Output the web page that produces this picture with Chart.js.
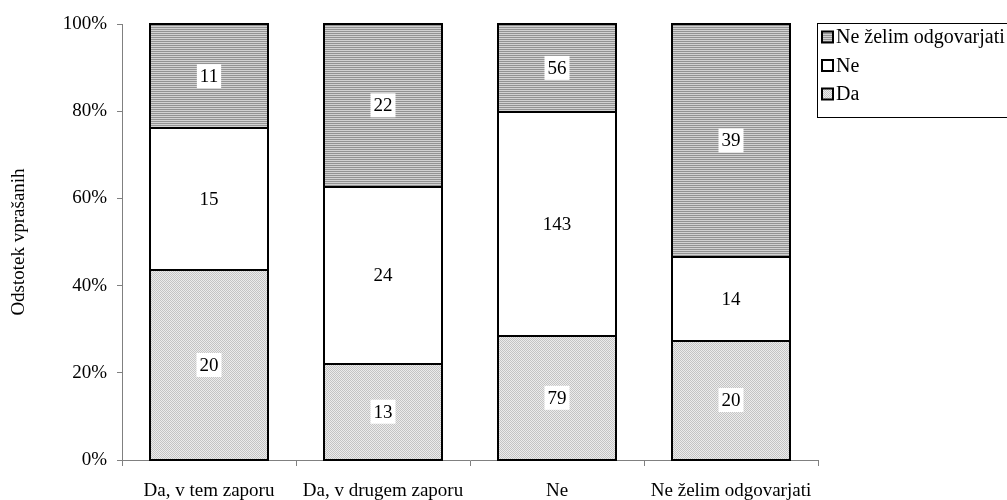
<!DOCTYPE html>
<html>
<head>
<meta charset="utf-8">
<script src="https://cdn.jsdelivr.net/npm/chart.js@4.4.1/dist/chart.umd.min.js"></script>
<style>
  html, body { margin: 0; padding: 0; background: #fff; }
  #wrap { width: 1007px; height: 500px; position: relative; }
</style>
</head>
<body>
<div id="wrap"><canvas id="c" width="1007" height="500"></canvas></div>
<script>
// Answer groups on the x axis
const categories = ['Da, v tem zaporu', 'Da, v drugem zaporu', 'Ne', 'Ne želim odgovarjati'];
// Respondent counts per answer within each group
const countsDa = [20, 13, 79, 20];
const countsNe = [15, 24, 143, 14];
const countsNeZelim = [11, 22, 56, 39];
const seriesNames = ['Da', 'Ne', 'Ne želim odgovarjati'];
const yTicks = [0, 20, 40, 60, 80, 100];

const FONT = 'Liberation Serif, Times New Roman, serif';
const FS = 19;

// Fill patterns: fine gray dots and horizontal gray stripes
function makePattern(draw, w, h) {
  const cv = document.createElement('canvas');
  cv.width = w; cv.height = h;
  const g = cv.getContext('2d');
  draw(g);
  return g.createPattern(cv, 'repeat');
}
const ctx = document.getElementById('c').getContext('2d');
const dotPattern = makePattern(g => {
  g.fillStyle = '#ececec'; g.fillRect(0, 0, 2, 2);
  g.fillStyle = '#c4c4c4'; g.fillRect(0, 0, 1, 1); g.fillRect(1, 1, 1, 1);
}, 2, 2);
const stripePattern = makePattern(g => {
  g.fillStyle = '#d2d2d2'; g.fillRect(0, 0, 4, 2);
  g.fillStyle = '#939393'; g.fillRect(0, 1, 4, 1);
}, 4, 2);

const totals = categories.map((_, i) => countsDa[i] + countsNe[i] + countsNeZelim[i]);
const pct = arr => arr.map((v, i) => v / totals[i] * 100);

const seriesCounts = [countsDa, countsNe, countsNeZelim];
const fills = [dotPattern, '#ffffff', stripePattern];

const datasets = seriesNames.map((name, k) => ({
  label: name,
  data: pct(seriesCounts[k]),
  counts: seriesCounts[k],
  backgroundColor: fills[k],
  borderWidth: 0,
  inflateAmount: 0,
  barPercentage: 0.68,
  categoryPercentage: 1.0
}));

// Black outline around each segment, shared edges collapse into one line
const segmentOutlines = {
  id: 'segmentOutlines',
  afterDatasetsDraw(chart) {
    const c = chart.ctx;
    c.save();
    c.strokeStyle = '#000';
    c.lineWidth = 2;
    chart.data.datasets.forEach((ds, di) => {
      chart.getDatasetMeta(di).data.forEach(bar => {
        const x0 = Math.round(bar.x - bar.width / 2);
        const x1 = Math.round(bar.x + bar.width / 2);
        const y0 = Math.round(Math.min(bar.y, bar.base));
        const y1 = Math.round(Math.max(bar.y, bar.base));
        c.strokeRect(x0, y0, x1 - x0, y1 - y0);
      });
    });
    c.restore();
  }
};

// Count labels in white boxes at the middle of each segment
const valueLabels = {
  id: 'valueLabels',
  afterDatasetsDraw(chart) {
    const c = chart.ctx;
    c.save();
    c.font = FS + 'px ' + FONT;
    c.textAlign = 'center';
    c.textBaseline = 'middle';
    chart.data.datasets.forEach((ds, di) => {
      chart.getDatasetMeta(di).data.forEach((bar, i) => {
        const txt = String(ds.counts[i]);
        const y = (bar.y + bar.base) / 2;
        const w = c.measureText(txt).width + 6;
        const h = 24;
        c.fillStyle = '#fff';
        c.fillRect(bar.x - w / 2, y - h / 2, w, h);
        c.fillStyle = '#000';
        c.fillText(txt, bar.x, y + 1);
      });
    });
    c.restore();
  }
};

// Boxed legend to the right of the plot, series listed top-down in stack order
const boxLegend = {
  id: 'boxLegend',
  afterDraw(chart) {
    const c = chart.ctx;
    const left = chart.chartArea.right - 1;
    const top = 23, bottom = 117;
    c.save();
    c.strokeStyle = '#000';
    c.lineWidth = 1;
    c.strokeRect(left + 0.5, top + 0.5, 400, bottom - top);
    c.font = '20px ' + FONT;
    c.textBaseline = 'middle';
    c.textAlign = 'left';
    const order = [2, 1, 0];
    order.forEach((di, r) => {
      const ds = chart.data.datasets[di];
      const y = 37 + r * 28.5;
      const sx = left + 5, sz = 11;
      c.fillStyle = ds.backgroundColor;
      c.fillRect(sx, y - sz / 2, sz, sz);
      c.lineWidth = 2;
      c.strokeStyle = '#000';
      c.strokeRect(sx, y - sz / 2, sz, sz);
      c.fillStyle = '#000';
      c.fillText(ds.label, sx + sz + 3, y + 1);
    });
    c.restore();
  }
};

new Chart(ctx, {
  type: 'bar',
  data: { labels: categories, datasets },
  options: {
    responsive: false,
    animation: false,
    layout: { padding: { top: 24, right: 189, left: 0, bottom: 0 } },
    plugins: {
      legend: { display: false },
      tooltip: { enabled: false }
    },
    scales: {
      x: {
        stacked: true,
        grid: { offset: true, drawOnChartArea: false, drawTicks: true, tickLength: 6, color: '#808080' },
        border: { color: '#808080', width: 1 },
        ticks: { color: '#000', font: { family: FONT, size: FS }, padding: 14, maxRotation: 0 },
        afterFit(s) { s.height = 40; }
      },
      y: {
        stacked: true,
        min: 0, max: 100,
        afterBuildTicks(s) { s.ticks = yTicks.map(v => ({ value: v })); },
        grid: { drawOnChartArea: false, drawTicks: true, tickLength: 5, color: '#808080' },
        border: { color: '#808080', width: 1 },
        ticks: { color: '#000', font: { family: FONT, size: FS }, padding: 10, callback: v => v + '%' },
        title: { display: true, text: 'Odstotek vprašanih', color: '#000', font: { family: FONT, size: FS }, padding: { top: 8, bottom: 0 } },
        afterFit(s) { s.width = 122; }
      }
    }
  },
  plugins: [segmentOutlines, valueLabels, boxLegend]
});
</script>
</body>
</html>
